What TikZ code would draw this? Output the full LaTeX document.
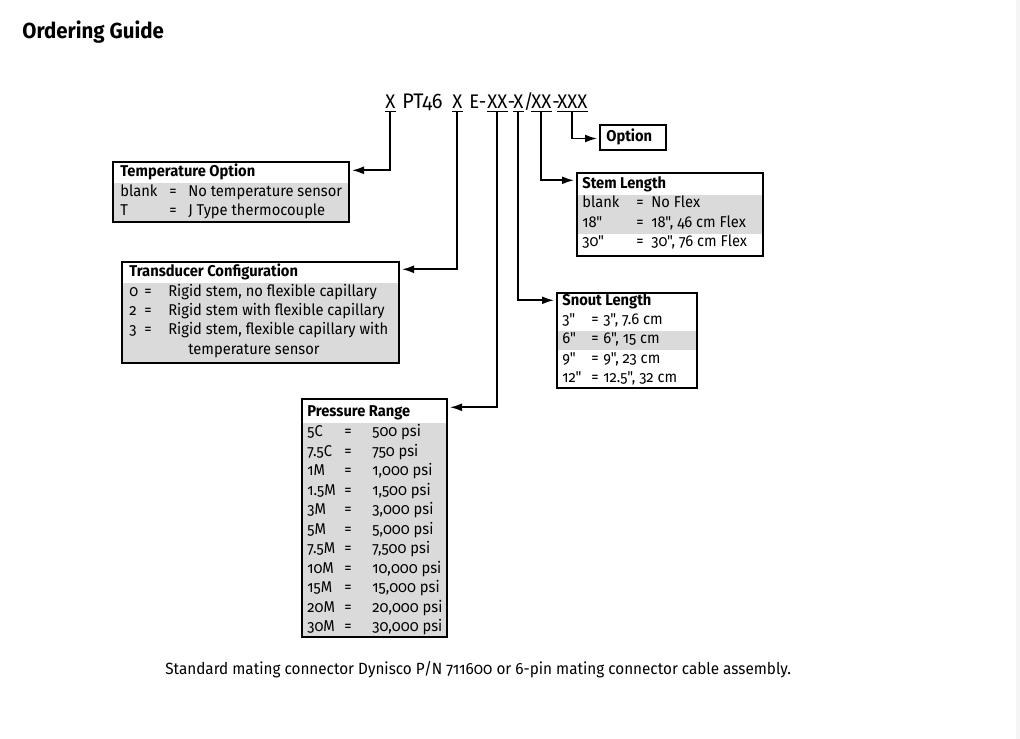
\documentclass[tikz,border=0pt]{standalone}
\usepackage{fontspec}
\setmainfont{Fira Sans}[Numbers={OldStyle,Proportional},Ligatures=TeXOff,FakeStretch=0.94]
\usetikzlibrary{arrows.meta,positioning,calc,fit}
\definecolor{rowgray}{RGB}{218,218,218}
\definecolor{edge}{RGB}{245,245,245}

\begin{document}
\begin{tikzpicture}[x=0.02cm,y=-0.02cm,font=\fontsize{8.9}{10}\selectfont,
  t/.style={anchor=west,inner sep=0pt,text height=6.3pt,text depth=1.8pt},
  h/.style={t,font=\fontsize{8.9}{10}\selectfont\bfseries},
  c/.style={anchor=base west,inner sep=0pt,text height=8pt,text depth=0pt,font=\fontsize{11.2}{13}\selectfont},
  box/.style={draw,line width=0.8pt,inner sep=0pt},
  arr/.style={line width=1.1pt,-{Latex[length=7pt,width=4.5pt]}}]
\fill[white] (0,0) rectangle (1020,739);
\useasboundingbox (0,0) rectangle (1020,739);
\fill[edge] (1016,0) rectangle (1020,739);

\node[anchor=west,inner sep=0pt,font=\fontsize{12.4}{14}\selectfont\bfseries] (title) at (22,32) {Ordering Guide};

% model code
\node[c] (x1) at (385,109) {X};
\node[c,font=\fontsize{12}{13}\selectfont] (p1) at (402,109) {PT46};
\node[c] (x2) at (452,109) {X};
\node[c] (p2) at (469,109) {E-};
\node[c] (x3) at (487,109) {XX};
\node[c] (p3) at (507.5,109) {-};
\node[c] (x4) at (513,109) {X};
\node[c] (p4) at (523.5,109) {/};
\node[c] (x5) at (531,109) {XX};
\node[c] (p5) at (552,109) {-};
\node[c] (x6) at (557,109) {XXX};
\foreach \n in {x1,x2,x3,x4,x5,x6}
  \draw[line width=0.8pt] ([yshift=-1.2pt]\n.south west) -- ([yshift=-1.2pt]\n.south east);

% shaded rows
\fill[rowgray] (113,183) rectangle (349,222);
\fill[rowgray] (122,283) rectangle (399,363);
\fill[rowgray] (577,195) rectangle (763,234);
\fill[rowgray] (557,331) rectangle (697,350);
\fill[rowgray] (302,423) rectangle (447,637);

% boxes
\node[box,fit={(113,162) (349,222)}] (temp) {};
\node[box,fit={(122,262) (399,363)}] (conf) {};
\node[box,fit={(577,173) (763,256)}] (stem) {};
\node[box,fit={(557,293) (697,388)}] (snout) {};
\node[box,fit={(302,399) (447,637)}] (pres) {};
\node[box,fit={(600,125) (666,150)}] (opt) {};

% Option
\node[h] (optt) at (606,138) {Option};

% Temperature Option
\node[h] (tempt) at (120,173) {Temperature Option};
\foreach \y/\k/\v [count=\i] in {193/blank/No temperature sensor,212/T/J Type thermocouple}{
  \node[t] (tk\i) at (120,\y) {\k};
  \node[t] (te\i) at (169,\y) {=};
  \node[t] (tv\i) at (188,\y) {\v};
}

% Transducer Configuration
\node[h] (conft) at (129,273) {Transducer Configuration};
\foreach \y/\k/\v [count=\i] in {293/0/{Rigid stem, no flexible capillary},
  312/2/Rigid stem with flexible capillary,331/3/{Rigid stem, flexible capillary with}}{
  \node[t] (ck\i) at (129,\y) {\k};
  \node[t] (ce\i) at (144,\y) {=};
  \node[t] (cv\i) at (168,\y) {\v};
}
\node[t] (cv4) at (188,351) {temperature sensor};

% Stem Length
\node[h] (stemt) at (582,185) {Stem Length};
\foreach \y/\k/\v [count=\i] in {204/blank/No Flex,224/18"/{18", 46 cm Flex},243/30"/{30", 76 cm Flex}}{
  \node[t] (sk\i) at (582,\y) {\k};
  \node[t] (se\i) at (636,\y) {=};
  \node[t] (sv\i) at (651,\y) {\v};
}

% Snout Length
\node[h] (snoutt) at (562,302) {Snout Length};
\foreach \y/\k/\v [count=\i] in {321/3"/{3", 7.6 cm},340/6"/{6", 15 cm},360/9"/{9", 23 cm},379/12"/{12.5", 32 cm}}{
  \node[t] (nk\i) at (562,\y) {\k};
  \node[t] (ne\i) at (591,\y) {=};
  \node[t] (nv\i) at (603,\y) {\v};
}

% Pressure Range
\node[h] (prest) at (307,413) {Pressure Range};
\foreach \k/\v [count=\i] in {5C/500 psi,7.5C/750 psi,1M/{1,000 psi},1.5M/{1,500 psi},3M/{3,000 psi},
  5M/{5,000 psi},7.5M/{7,500 psi},10M/{10,000 psi},15M/{15,000 psi},20M/{20,000 psi},30M/{30,000 psi}}{
  \node[t] (pk\i) at (307,{433+19.5*(\i-1)}) {\k};
  \node[t] (pe\i) at (344,{433+19.5*(\i-1)}) {=};
  \node[t] (pv\i) at (372,{433+19.5*(\i-1)}) {\v};
}

% connectors
\draw[arr] ([yshift=-1.2pt]x1.south) |- ($(temp.north east)+(2,9)$);
\draw[arr] ([yshift=-1.2pt]x2.south) |- ($(conf.north east)+(2,8)$);
\draw[arr] ([yshift=-1.2pt]x3.south) |- ($(pres.north east)+(2,9)$);
\draw[arr] ([yshift=-1.2pt]x4.south) |- ($(snout.north west)+(-2,8)$);
\draw[arr] ([yshift=-1.2pt]x5.south) |- ($(stem.north west)+(-2,8)$);
\draw[arr] ([yshift=-1.2pt]x6.south) |- ($(opt.west)+(-2,1)$);

\node[t,font=\fontsize{9.25}{11}\selectfont] (note) at (165,671) {Standard mating connector Dynisco P/N 711600 or 6-pin mating connector cable assembly.};
\end{tikzpicture}
\end{document}
